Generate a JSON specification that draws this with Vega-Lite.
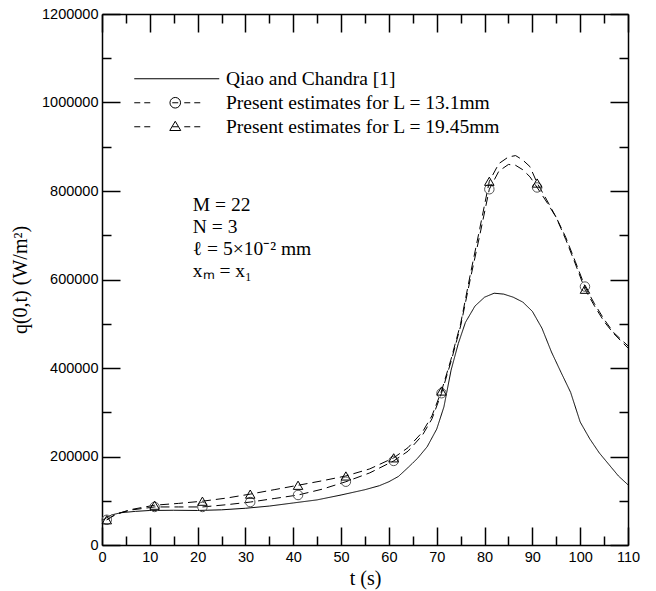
{
  "$schema": "https://vega.github.io/schema/vega-lite/v6.json",
  "width": 526,
  "height": 531,
  "autosize": "none",
  "padding": {"left": 102, "top": 14, "right": 28, "bottom": 46},
  "background": "white",
  "config": {
    "view": {"stroke": null},
    "axis": {
      "grid": false,
      "domainColor": "black",
      "domainWidth": 1.5,
      "tickColor": "black",
      "tickWidth": 1.5,
      "labelFont": "Liberation Sans",
      "labelFontSize": 14.5,
      "labelColor": "black",
      "titleFont": "Liberation Serif",
      "titleFontSize": 20,
      "titleFontWeight": "normal",
      "titleColor": "black"
    }
  },
  "data": {
    "values": [
      {"series": "Qiao and Chandra [1]", "t": 0, "q": 55000},
      {"series": "Qiao and Chandra [1]", "t": 1, "q": 62000},
      {"series": "Qiao and Chandra [1]", "t": 2, "q": 68000},
      {"series": "Qiao and Chandra [1]", "t": 4, "q": 73000},
      {"series": "Qiao and Chandra [1]", "t": 7, "q": 76000},
      {"series": "Qiao and Chandra [1]", "t": 10, "q": 78000},
      {"series": "Qiao and Chandra [1]", "t": 15, "q": 78500},
      {"series": "Qiao and Chandra [1]", "t": 20, "q": 78000},
      {"series": "Qiao and Chandra [1]", "t": 25, "q": 79500},
      {"series": "Qiao and Chandra [1]", "t": 30, "q": 83000},
      {"series": "Qiao and Chandra [1]", "t": 35, "q": 88000},
      {"series": "Qiao and Chandra [1]", "t": 40, "q": 95000},
      {"series": "Qiao and Chandra [1]", "t": 45, "q": 102000},
      {"series": "Qiao and Chandra [1]", "t": 50, "q": 113000},
      {"series": "Qiao and Chandra [1]", "t": 55, "q": 125000},
      {"series": "Qiao and Chandra [1]", "t": 58, "q": 134000},
      {"series": "Qiao and Chandra [1]", "t": 60, "q": 143000},
      {"series": "Qiao and Chandra [1]", "t": 62, "q": 155000},
      {"series": "Qiao and Chandra [1]", "t": 64, "q": 175000},
      {"series": "Qiao and Chandra [1]", "t": 66, "q": 196000},
      {"series": "Qiao and Chandra [1]", "t": 68, "q": 222000},
      {"series": "Qiao and Chandra [1]", "t": 70, "q": 262000},
      {"series": "Qiao and Chandra [1]", "t": 71.5, "q": 312000},
      {"series": "Qiao and Chandra [1]", "t": 73, "q": 395000},
      {"series": "Qiao and Chandra [1]", "t": 74.5, "q": 455000},
      {"series": "Qiao and Chandra [1]", "t": 76, "q": 503000},
      {"series": "Qiao and Chandra [1]", "t": 78, "q": 540000},
      {"series": "Qiao and Chandra [1]", "t": 80, "q": 560000},
      {"series": "Qiao and Chandra [1]", "t": 82, "q": 569000},
      {"series": "Qiao and Chandra [1]", "t": 84, "q": 567000},
      {"series": "Qiao and Chandra [1]", "t": 86, "q": 560000},
      {"series": "Qiao and Chandra [1]", "t": 88, "q": 549000},
      {"series": "Qiao and Chandra [1]", "t": 90, "q": 528000},
      {"series": "Qiao and Chandra [1]", "t": 92, "q": 490000},
      {"series": "Qiao and Chandra [1]", "t": 94, "q": 436000},
      {"series": "Qiao and Chandra [1]", "t": 96, "q": 390000},
      {"series": "Qiao and Chandra [1]", "t": 98, "q": 345000},
      {"series": "Qiao and Chandra [1]", "t": 100, "q": 278000},
      {"series": "Qiao and Chandra [1]", "t": 102, "q": 240000},
      {"series": "Qiao and Chandra [1]", "t": 104, "q": 208000},
      {"series": "Qiao and Chandra [1]", "t": 106, "q": 182000},
      {"series": "Qiao and Chandra [1]", "t": 108, "q": 156000},
      {"series": "Qiao and Chandra [1]", "t": 110, "q": 136000},

      {"series": "Present estimates for L = 13.1mm", "t": 1, "q": 57000},
      {"series": "Present estimates for L = 13.1mm", "t": 3, "q": 70000},
      {"series": "Present estimates for L = 13.1mm", "t": 6, "q": 79000},
      {"series": "Present estimates for L = 13.1mm", "t": 11, "q": 86000},
      {"series": "Present estimates for L = 13.1mm", "t": 16, "q": 86000},
      {"series": "Present estimates for L = 13.1mm", "t": 21, "q": 86000},
      {"series": "Present estimates for L = 13.1mm", "t": 26, "q": 91000},
      {"series": "Present estimates for L = 13.1mm", "t": 31, "q": 97000},
      {"series": "Present estimates for L = 13.1mm", "t": 36, "q": 105000},
      {"series": "Present estimates for L = 13.1mm", "t": 41, "q": 113000},
      {"series": "Present estimates for L = 13.1mm", "t": 46, "q": 126000},
      {"series": "Present estimates for L = 13.1mm", "t": 51, "q": 143000},
      {"series": "Present estimates for L = 13.1mm", "t": 56, "q": 163000},
      {"series": "Present estimates for L = 13.1mm", "t": 61, "q": 190000},
      {"series": "Present estimates for L = 13.1mm", "t": 64, "q": 212000},
      {"series": "Present estimates for L = 13.1mm", "t": 67, "q": 248000},
      {"series": "Present estimates for L = 13.1mm", "t": 69, "q": 285000},
      {"series": "Present estimates for L = 13.1mm", "t": 71, "q": 343000},
      {"series": "Present estimates for L = 13.1mm", "t": 73, "q": 415000},
      {"series": "Present estimates for L = 13.1mm", "t": 75, "q": 495000},
      {"series": "Present estimates for L = 13.1mm", "t": 77, "q": 600000},
      {"series": "Present estimates for L = 13.1mm", "t": 79, "q": 700000},
      {"series": "Present estimates for L = 13.1mm", "t": 81, "q": 804000},
      {"series": "Present estimates for L = 13.1mm", "t": 83, "q": 845000},
      {"series": "Present estimates for L = 13.1mm", "t": 85, "q": 860000},
      {"series": "Present estimates for L = 13.1mm", "t": 86.5, "q": 858000},
      {"series": "Present estimates for L = 13.1mm", "t": 88, "q": 848000},
      {"series": "Present estimates for L = 13.1mm", "t": 89.5, "q": 832000},
      {"series": "Present estimates for L = 13.1mm", "t": 91, "q": 808000},
      {"series": "Present estimates for L = 13.1mm", "t": 93, "q": 775000},
      {"series": "Present estimates for L = 13.1mm", "t": 95, "q": 740000},
      {"series": "Present estimates for L = 13.1mm", "t": 97, "q": 695000},
      {"series": "Present estimates for L = 13.1mm", "t": 99, "q": 640000},
      {"series": "Present estimates for L = 13.1mm", "t": 101, "q": 584000},
      {"series": "Present estimates for L = 13.1mm", "t": 103, "q": 545000},
      {"series": "Present estimates for L = 13.1mm", "t": 105, "q": 510000},
      {"series": "Present estimates for L = 13.1mm", "t": 107, "q": 480000},
      {"series": "Present estimates for L = 13.1mm", "t": 110, "q": 450000},

      {"series": "Present estimates for L = 19.45mm", "t": 1, "q": 57000},
      {"series": "Present estimates for L = 19.45mm", "t": 3, "q": 70000},
      {"series": "Present estimates for L = 19.45mm", "t": 6, "q": 80000},
      {"series": "Present estimates for L = 19.45mm", "t": 11, "q": 90000},
      {"series": "Present estimates for L = 19.45mm", "t": 16, "q": 94000},
      {"series": "Present estimates for L = 19.45mm", "t": 21, "q": 99000},
      {"series": "Present estimates for L = 19.45mm", "t": 26, "q": 106000},
      {"series": "Present estimates for L = 19.45mm", "t": 31, "q": 115000},
      {"series": "Present estimates for L = 19.45mm", "t": 36, "q": 125000},
      {"series": "Present estimates for L = 19.45mm", "t": 41, "q": 135000},
      {"series": "Present estimates for L = 19.45mm", "t": 46, "q": 145000},
      {"series": "Present estimates for L = 19.45mm", "t": 51, "q": 156000},
      {"series": "Present estimates for L = 19.45mm", "t": 56, "q": 172000},
      {"series": "Present estimates for L = 19.45mm", "t": 61, "q": 197000},
      {"series": "Present estimates for L = 19.45mm", "t": 64, "q": 220000},
      {"series": "Present estimates for L = 19.45mm", "t": 67, "q": 255000},
      {"series": "Present estimates for L = 19.45mm", "t": 69, "q": 292000},
      {"series": "Present estimates for L = 19.45mm", "t": 71, "q": 348000},
      {"series": "Present estimates for L = 19.45mm", "t": 73, "q": 420000},
      {"series": "Present estimates for L = 19.45mm", "t": 75, "q": 500000},
      {"series": "Present estimates for L = 19.45mm", "t": 77, "q": 610000},
      {"series": "Present estimates for L = 19.45mm", "t": 79, "q": 715000},
      {"series": "Present estimates for L = 19.45mm", "t": 81, "q": 822000},
      {"series": "Present estimates for L = 19.45mm", "t": 83, "q": 862000},
      {"series": "Present estimates for L = 19.45mm", "t": 85, "q": 877000},
      {"series": "Present estimates for L = 19.45mm", "t": 86.5, "q": 880000},
      {"series": "Present estimates for L = 19.45mm", "t": 88, "q": 870000},
      {"series": "Present estimates for L = 19.45mm", "t": 89.5, "q": 855000},
      {"series": "Present estimates for L = 19.45mm", "t": 91, "q": 818000},
      {"series": "Present estimates for L = 19.45mm", "t": 93, "q": 780000},
      {"series": "Present estimates for L = 19.45mm", "t": 95, "q": 740000},
      {"series": "Present estimates for L = 19.45mm", "t": 97, "q": 690000},
      {"series": "Present estimates for L = 19.45mm", "t": 99, "q": 635000},
      {"series": "Present estimates for L = 19.45mm", "t": 101, "q": 578000},
      {"series": "Present estimates for L = 19.45mm", "t": 103, "q": 540000},
      {"series": "Present estimates for L = 19.45mm", "t": 105, "q": 505000},
      {"series": "Present estimates for L = 19.45mm", "t": 107, "q": 478000},
      {"series": "Present estimates for L = 19.45mm", "t": 110, "q": 445000}
    ]
  },
  "resolve": {"axis": {"x": "independent", "y": "independent"}, "scale": {"shape": "independent", "stroke": "independent"}},
  "layer": [
    {
      "mark": {"type": "line", "color": "black", "strokeWidth": 1},
      "encoding": {
        "x": {
          "field": "t", "type": "quantitative",
          "scale": {"domain": [0, 110], "nice": false},
          "axis": {
            "orient": "bottom",
            "values": [0,5,10,15,20,25,30,35,40,45,50,55,60,65,70,75,80,85,90,95,100,105,110],
            "tickSize": {"condition": {"test": "datum.value % 10 === 0", "value": -18}, "value": -9},
            "labelPadding": {"condition": {"test": "datum.value % 10 === 0", "value": 23}, "value": 13},
            "labelExpr": "datum.value % 10 === 0 ? datum.label : ''",
            "labelFlush": false,
            "labelOverlap": false,
            "format": "d",
            "title": "t (s)",
            "titleY": 23
          }
        },
        "y": {
          "field": "q", "type": "quantitative",
          "scale": {"domain": [0, 1200000], "nice": false},
          "axis": {
            "orient": "left",
            "values": [0,100000,200000,300000,400000,500000,600000,700000,800000,900000,1000000,1100000,1200000],
            "tickSize": {"condition": {"test": "datum.value % 200000 === 0", "value": -18}, "value": -9},
            "labelPadding": {"condition": {"test": "datum.value % 200000 === 0", "value": 22}, "value": 13},
            "labelExpr": "datum.value % 200000 === 0 ? datum.label : ''",
            "labelFlush": false,
            "labelOverlap": false,
            "format": "d",
            "title": "q(0,t) (W/m²)",
            "titleX": -72
          }
        },
        "strokeDash": {
          "field": "series", "type": "nominal",
          "scale": {
            "domain": ["Qiao and Chandra [1]", "Present estimates for L = 13.1mm", "Present estimates for L = 19.45mm"],
            "range": [[1, 0], [9, 5], [9, 5]]
          },
          "legend": null
        }
      }
    },
    {
      "transform": [{"filter": "datum.series !== 'Qiao and Chandra [1]' && datum.t % 10 === 1"}],
      "mark": {"type": "point", "filled": false, "size": 90, "strokeWidth": 1, "opacity": 1},
      "encoding": {
        "x": {
          "field": "t", "type": "quantitative",
          "axis": {
            "orient": "top",
            "values": [0,5,10,15,20,25,30,35,40,45,50,55,60,65,70,75,80,85,90,95,100,105,110],
            "tickSize": {"condition": {"test": "datum.value % 10 === 0", "value": -18}, "value": -9},
            "labels": false,
            "title": null
          }
        },
        "y": {
          "field": "q", "type": "quantitative",
          "axis": {
            "orient": "right",
            "values": [0,100000,200000,300000,400000,500000,600000,700000,800000,900000,1000000,1100000,1200000],
            "tickSize": {"condition": {"test": "datum.value % 200000 === 0", "value": -18}, "value": -9},
            "labels": false,
            "title": null
          }
        },
        "shape": {
          "field": "series", "type": "nominal",
          "scale": {"domain": ["Present estimates for L = 13.1mm", "Present estimates for L = 19.45mm"], "range": ["circle", "triangle-up"]},
          "legend": null
        },
        "stroke": {
          "field": "series", "type": "nominal",
          "scale": {"domain": ["Present estimates for L = 13.1mm", "Present estimates for L = 19.45mm"], "range": ["#555555", "#000000"]},
          "legend": null
        }
      }
    },
    {
      "transform": [{"filter": "false"}],
      "mark": {"type": "point", "filled": false, "color": "black", "strokeWidth": 1, "opacity": 1, "size": 100},
      "encoding": {
        "x": {"field": "t", "type": "quantitative", "axis": null},
        "y": {"field": "q", "type": "quantitative", "axis": null},
        "shape": {
          "field": "series", "type": "nominal",
          "scale": {
            "domain": ["Qiao and Chandra [1]", "Present estimates for L = 13.1mm", "Present estimates for L = 19.45mm"],
            "range": [
              "M-8.5,0H8.5",
              "M-8.5,0H-7.3M-6.5,0H-5.3M-0.9,0H0.3M1.5,0H2.7M3.5,0H4.7M0.76,0A1.06,1.06,0,1,1,-1.36,0A1.06,1.06,0,1,1,0.76,0Z",
              "M-8.5,0H-7.3M-6.5,0H-5.3M-0.9,0H0.3M1.5,0H2.7M3.5,0H4.7M-0.3,-1.1L0.8,0.75L-1.4,0.75Z"
            ]
          },
          "legend": {
            "orient": "none",
            "legendX": 67.5,
            "legendY": 55,
            "title": null,
            "padding": 0,
            "rowPadding": 3,
            "symbolSize": 100,
            "symbolStrokeWidth": 1,
            "symbolStrokeColor": "black",
            "symbolFillColor": "transparent",
            "symbolOpacity": 1,
            "symbolOffset": -2.5,
            "labelOffset": 39.5,
            "labelFont": "Liberation Serif",
            "labelFontSize": 19.5,
            "labelColor": "black",
            "labelLimit": 0
          }
        }
      }
    },
    {
      "data": {"values": [{"note": ["M = 22", "N = 3", "ℓ = 5×10⁻² mm", "xₘ = x₁"]}]},
      "mark": {"type": "text", "align": "left", "baseline": "top", "font": "Liberation Serif", "fontSize": 19.5, "lineHeight": 22, "color": "black"},
      "encoding": {
        "text": {"field": "note", "type": "nominal"},
        "x": {"datum": 19, "type": "quantitative", "axis": null},
        "y": {"datum": 788000, "type": "quantitative", "axis": null}
      }
    }
  ]
}
